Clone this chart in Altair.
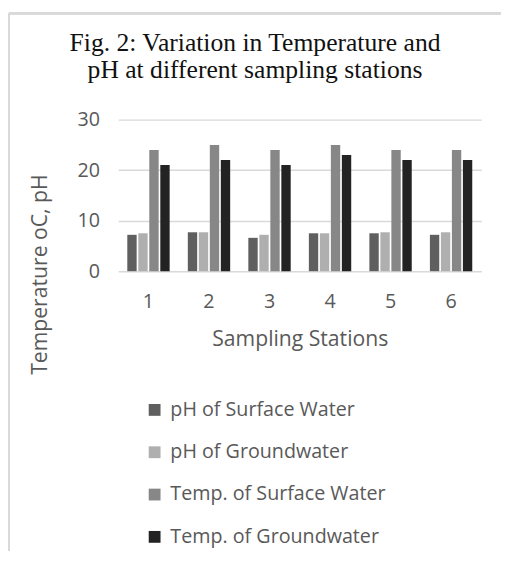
import altair as alt
import pandas as pd

stations = ["1", "2", "3", "4", "5", "6"]
series = ["pH of Surface Water", "pH of Groundwater",
          "Temp. of Surface Water", "Temp. of Groundwater"]
ph_surface = [7.2, 7.7, 6.6, 7.5, 7.5, 7.2]
ph_ground = [7.5, 7.7, 7.2, 7.5, 7.7, 7.7]
temp_surface = [24, 25, 24, 25, 24, 24]
temp_ground = [21, 22, 21, 23, 22, 22]
colors = ["#5f5f5f", "#afafaf", "#878787", "#232323"]

rows = []
for name, vals in zip(series, [ph_surface, ph_ground, temp_surface, temp_ground]):
    for s, v in zip(stations, vals):
        rows.append({"Station": s, "Series": name, "Value": v})
df = pd.DataFrame(rows)

FONT = "Open Sans"
GREY = "#595959"

bars = alt.Chart(df).mark_bar().encode(
    x=alt.X("Station:N", sort=stations,
            scale=alt.Scale(paddingInner=0.3, paddingOuter=0.15),
            axis=alt.Axis(title="Sampling Stations", labelAngle=0, ticks=False,
                          tickSize=0, domain=False, labelPadding=21,
                          labelFontSize=20, labelColor=GREY, labelFont=FONT,
                          titleFontSize=21.5, titleColor=GREY, titleFont=FONT,
                          titleFontWeight="normal", titleY=70,
                          titleBaseline="middle")),
    xOffset=alt.XOffset("Series:N", sort=series,
                        scale=alt.Scale(paddingInner=0.15)),
    y=alt.Y("Value:Q", scale=alt.Scale(domain=[0, 30]),
            axis=alt.Axis(title="Temperature oC, pH", values=[0, 10, 20, 30],
                          ticks=False, tickSize=0, domain=False,
                          labelPadding=19, labelFontSize=20, labelColor=GREY,
                          labelFont=FONT, gridColor="#d9d9d9", gridWidth=1.5,
                          titleFontSize=21.5, titleColor=GREY, titleFont=FONT,
                          titleFontWeight="normal", titleX=-79, titleY=157,
                          titleAngle=270, titleAlign="center",
                          titleBaseline="middle")),
    color=alt.Color("Series:N", sort=series,
                    scale=alt.Scale(domain=series, range=colors),
                    legend=alt.Legend(title=None, orient="none", legendX=27,
                                      legendY=285, direction="vertical",
                                      symbolType="square", symbolSize=144,
                                      symbolStrokeWidth=0, labelFontSize=20,
                                      labelFont=FONT, labelColor=GREY,
                                      labelOffset=6, rowPadding=23, padding=0,
                                      labelLimit=400)),
)

border_top = alt.Chart(df).mark_rule(color="#d9d9d9", strokeWidth=2).encode(
    x=alt.value(-111), x2=alt.value(389), y=alt.value(-108))
border_left = alt.Chart(df).mark_rule(color="#d9d9d9", strokeWidth=2).encode(
    x=alt.value(-111), y=alt.value(-108), y2=alt.value(438))

chart = alt.layer(bars, border_top, border_left).properties(
    width=369, height=154, padding=0,
    title=alt.TitleParams(
        text=["Fig. 2: Variation in Temperature and",
              "pH at different sampling stations"],
        font="Liberation Serif", fontSize=26, fontWeight="normal",
        color="#111111", lineHeight=28, anchor="middle", frame="bounds",
        offset=32, dy=104),
).configure_view(stroke=None)

chart.save("out.html", embed_options={"renderer": "svg", "actions": False})
